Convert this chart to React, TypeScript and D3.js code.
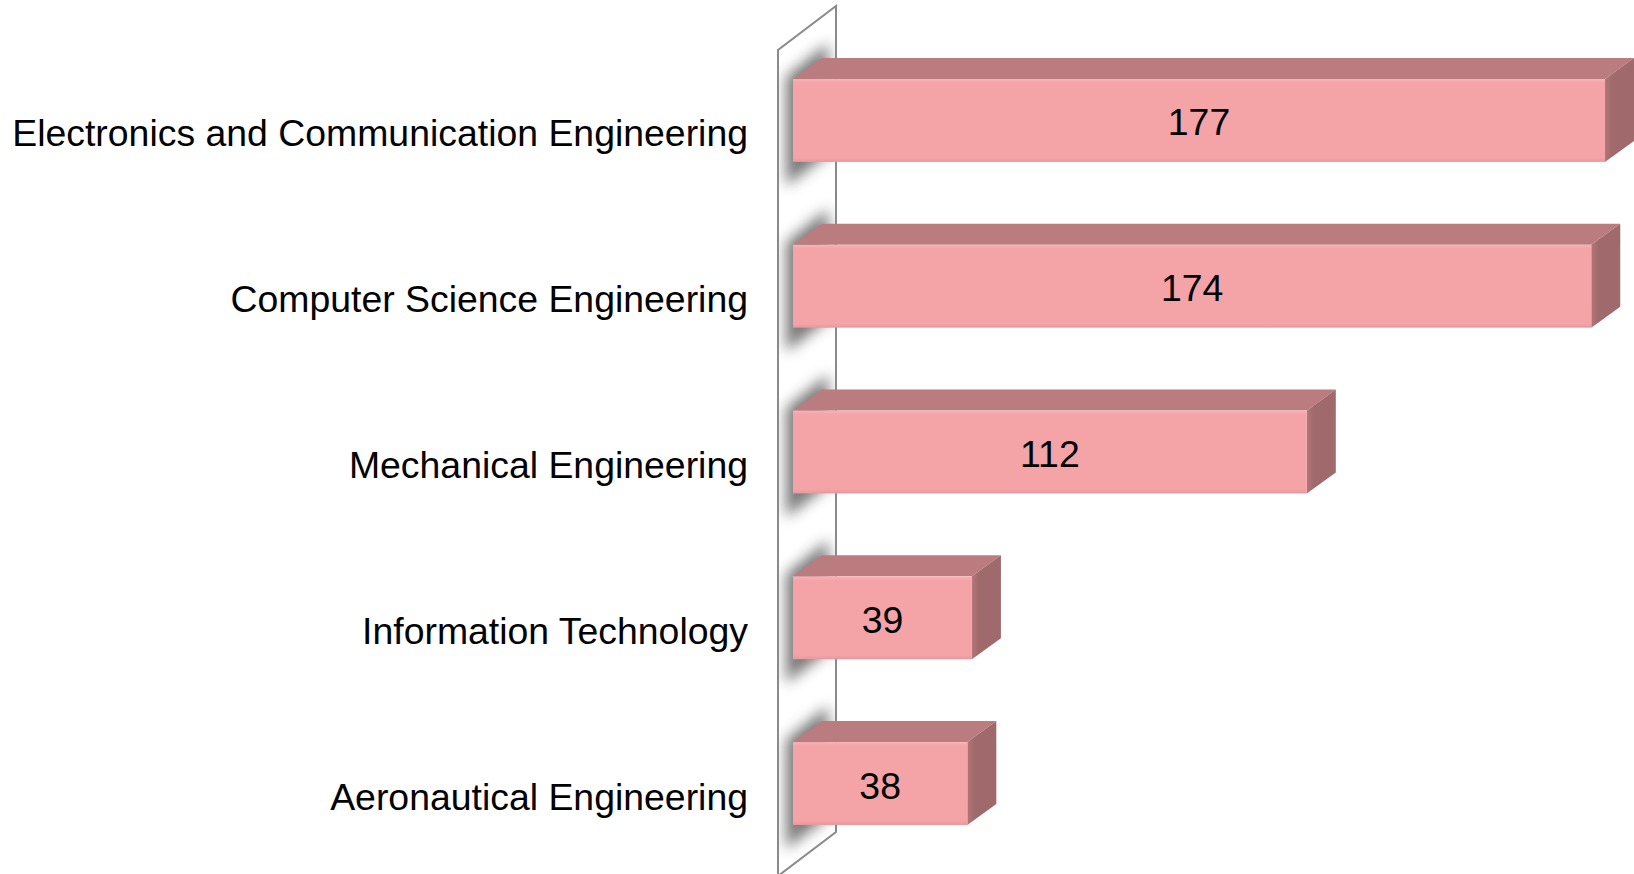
import React from "react";
import * as d3 from "d3";

const categories = [
  "Electronics and Communication Engineering",
  "Computer Science Engineering",
  "Mechanical Engineering",
  "Information Technology",
  "Aeronautical Engineering",
];
const values = [177, 174, 112, 39, 38];

const W = 1634;
const H = 874;

export default function App() {
  const y = d3
    .scaleBand<string>()
    .domain(categories)
    .range([37.6, 866.4])
    .paddingInner(0.5)
    .paddingOuter(0.25);
  const x = d3.scaleLinear().domain([0, 177]).range([793, 1605]);

  const dx = 29;
  const dy = -21;
  const wallFront = 778;
  const wallBack = 836;
  const wallTopFront = 50;
  const wallTopBack = 6;
  const wallBotFront = 876;
  const wallBotBack = 832;

  const line = d3.line();
  const wallPath =
    line([
      [wallFront, wallBotFront],
      [wallFront, wallTopFront],
      [wallBack, wallTopBack],
      [wallBack, wallBotBack],
      [wallFront, wallBotFront],
    ]) + "Z";

  const front = "#F4A3A7";
  const top = "#BA7C7E";
  const side = "#A0696B";
  const font = "'Liberation Sans', Arial, sans-serif";

  return (
    <svg
      width={W}
      height={H}
      style={{ position: "absolute", left: 0, top: 0, background: "#fff" }}
    >
      <defs>
        <filter id="blur" x="-50%" y="-50%" width="200%" height="200%">
          <feGaussianBlur stdDeviation="7" />
        </filter>
        <clipPath id="wallclip">
          <path d={wallPath} />
        </clipPath>
        <linearGradient id="frontg" x1="0" y1="0" x2="0" y2="1">
          <stop offset="0" stopColor="#F7B3B6" />
          <stop offset="0.05" stopColor={front} />
          <stop offset="0.95" stopColor={front} />
          <stop offset="1" stopColor="#E8989C" />
        </linearGradient>
        <linearGradient id="sideg" x1="0" y1="0" x2="1" y2="0">
          <stop offset="0" stopColor="#B47678" />
          <stop offset="0.25" stopColor={side} />
          <stop offset="1" stopColor={side} />
        </linearGradient>
      </defs>
      <path d={wallPath} fill="#fff" stroke="none" />
      <g clipPath="url(#wallclip)">
        {categories.map((c) => {
          const t = y(c)!;
          const b = t + y.bandwidth();
          return (
            <path
              key={c}
              d={
                line([
                  [786, t - 2],
                  [828, t - 36],
                  [828, b - 8],
                  [786, b + 24],
                ]) + "Z"
              }
              fill="#6a6a6a"
              opacity={0.9}
              filter="url(#blur)"
            />
          );
        })}
      </g>
      <path d={wallPath} fill="none" stroke="#8a8a8a" strokeWidth={2} />

      {categories.map((c, i) => {
        const t = y(c)!;
        const b = t + y.bandwidth();
        const x0 = x(0);
        const x1 = x(values[i]);
        return (
          <g key={c}>
            <path
              d={
                line([
                  [x0, t],
                  [x0 + dx, t + dy],
                  [x1 + dx, t + dy],
                  [x1, t],
                ]) + "Z"
              }
              fill={top}
            />
            <path
              d={
                line([
                  [x1, t],
                  [x1 + dx, t + dy],
                  [x1 + dx, b + dy],
                  [x1, b],
                ]) + "Z"
              }
              fill="url(#sideg)"
            />
            <rect x={x0} y={t} width={x1 - x0} height={b - t} fill="url(#frontg)" />
            <text
              x={(x0 + x1) / 2}
              y={(t + b) / 2 + 2}
              textAnchor="middle"
              dominantBaseline="central"
              fontFamily={font}
              fontSize={37.4}
              fill="#000"
            >
              {values[i]}
            </text>
            <text
              x={748}
              y={(t + b) / 2 + 13}
              textAnchor="end"
              dominantBaseline="central"
              fontFamily={font}
              fontSize={37.4}
              fill="#000"
            >
              {c}
            </text>
          </g>
        );
      })}
    </svg>
  );
}
